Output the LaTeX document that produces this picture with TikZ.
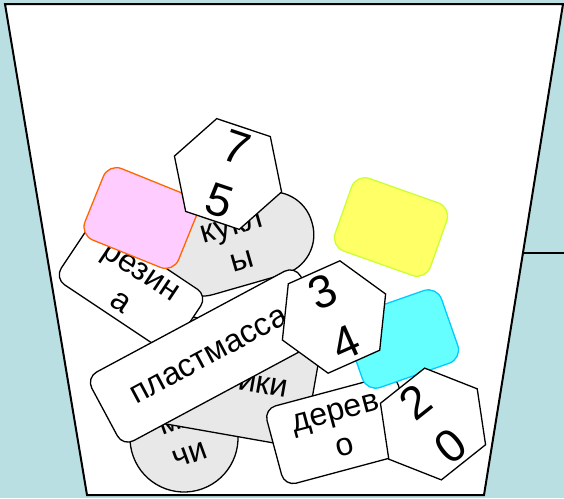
\documentclass[tikz,border=0pt]{standalone}
\usepackage{fontspec}
\setmainfont{Liberation Sans}
\usetikzlibrary{shapes.geometric}

\definecolor{wallblue}{RGB}{186,223,226}
\definecolor{toygray}{RGB}{232,232,232}
\definecolor{pinkfill}{RGB}{255,204,255}
\definecolor{pinkline}{RGB}{255,102,0}
\definecolor{yellowfill}{RGB}{255,255,102}
\definecolor{yellowline}{RGB}{204,255,51}
\definecolor{cyanfill}{RGB}{102,255,255}
\definecolor{cyanline}{RGB}{0,204,255}

\newcommand{\wordfont}{\fontsize{32}{36}\selectfont}
\newcommand{\digitfont}{\fontsize{46}{56}\selectfont}

\begin{document}
\begin{tikzpicture}[
    x=1pt, y=-1pt,
    cup/.style={draw=black, fill=white, line width=2pt}, % Cup outline
    toy/.style={draw=black, fill=toygray, line width=1.3pt, align=center, font=\wordfont, inner sep=1pt}, % Grey toys
    material/.style={draw=black, fill=white, line width=1.3pt, rounded corners=12pt, align=center, font=\wordfont, inner sep=2pt}, % White word cards
    swatch/.style={rounded corners=14pt, line width=1.3pt, minimum width=101pt, minimum height=77pt}, % Colour squares
    numhex/.style={draw=black, fill=white, line width=1.3pt, regular polygon, regular polygon sides=6, minimum size=113pt, inner sep=-14pt, align=center, font=\digitfont} % Number hexagons
]

    % Frame of the picture
    \useasboundingbox (0,0) rectangle (564,498);
    \fill[wallblue] (0,0) rectangle (564,498);

    % Corners of the cup
    \coordinate (rimL) at (5,4);
    \coordinate (rimR) at (563,4);
    \coordinate (baseR) at (484,495);
    \coordinate (baseL) at (87,495);
    \coordinate (shelfL) at (523,253);
    \coordinate (shelfR) at (564,253);

    % Draw the cup and the shelf edge
    \draw[cup] (rimL) -- (rimR) -- (baseR) -- (baseL) -- cycle;
    \draw[line width=1.3pt] (shelfL) -- (shelfR);

    % Grey toys (lowest in the pile)
    \node[toy, circle, minimum size=108pt, rotate=20] (balls) at (184,438) {мя\\чи};
    \node[toy, minimum width=150pt, minimum height=110pt, rounded corners=3pt, rotate=-10] (cubes) at (239,381) {кубики};
    \node[toy, minimum width=156pt, minimum height=84pt, rounded corners=41pt, rotate=16] (dolls) at (237,244) {кукл\\ы};

    % Word cards, colour squares and number hexagons
    \node[material, minimum width=137pt, minimum height=70pt, rotate=-33.7] (rubber) at (131,287) {резин\\а};
    \node[swatch, draw=pinkline, fill=pinkfill, rotate=-22] (pink) at (141,218) {};
    \node[numhex, rotate=-18.5] (hexA) at (228,174) {7\\5};
    \node[material, minimum width=237pt, minimum height=78pt, rotate=28.2] (plastic) at (209,356) {пластмасса};
    \node[material, minimum width=136pt, minimum height=80pt, rotate=15] (wood) at (340,430) {дерев\\о};
    \node[swatch, draw=yellowline, fill=yellowfill, rotate=-19.5] (yellow) at (391,227) {};
    \node[swatch, draw=cyanline, fill=cyanfill, rotate=19.3] (cyan) at (402,339) {};
    \node[numhex, rotate=24] (hexB) at (334,317) {3\\4};
    \node[numhex, rotate=38.5] (hexC) at (433,424) {2\\0};

\end{tikzpicture}
\end{document}
